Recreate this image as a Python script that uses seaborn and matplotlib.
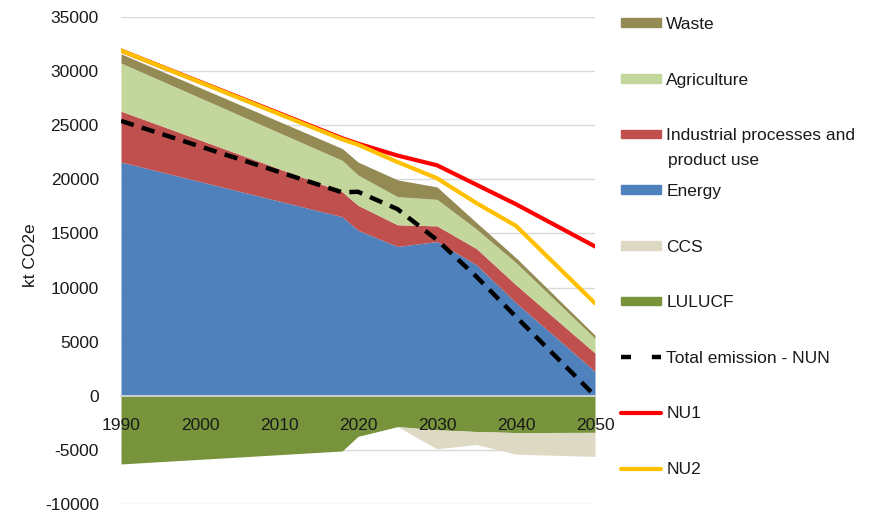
import matplotlib
matplotlib.use("Agg")
import matplotlib.pyplot as plt
from matplotlib.patches import Patch
from matplotlib.lines import Line2D
import seaborn as sns
import pandas as pd

years = [1990, 2018, 2020, 2025, 2030, 2035, 2040, 2050]
energy = [21600, 16550, 15300, 13800, 14250, 12100, 8600, 2250]
ippu = [4700, 2300, 2300, 2000, 1450, 1500, 1650, 1700]
agriculture = [4450, 2900, 2800, 2600, 2450, 1800, 2050, 1350]
waste = [850, 1100, 1200, 1550, 1150, 600, 450, 300]
lulucf = [-6300, -5100, -3750, -2850, -3150, -3300, -3400, -3380]
ccs = [0, 0, 0, 0, -1750, -1200, -2000, -2220]
total_nun = [25400, 18800, 18850, 17250, 14400, 11000, 7300, 0]
nu1 = [31900, 23800, 23300, 22200, 21300, 19500, 17700, 13800]
nu2 = [31900, 23700, 23200, 21600, 20100, 17800, 15700, 8550]

y_ticks = [-10000, -5000, 0, 5000, 10000, 15000, 20000, 25000, 30000, 35000]
x_ticks = [1990, 2000, 2010, 2020, 2030, 2040, 2050]

c_energy = "#4F81BD"
c_ippu = "#C0504D"
c_agri = "#C3D69B"
c_waste = "#948A54"
c_lulucf = "#77933C"
c_ccs = "#DDD9C3"
c_nu1 = "#FF0000"
c_nu2 = "#FFC000"

sns.set_theme(style="white")
plt.rcParams["font.family"] = ["Liberation Sans", "DejaVu Sans"]
plt.rcParams["axes.unicode_minus"] = False
FS = 12.5
TXT = "#1a1a1a"

fig = plt.figure(figsize=(8.76, 5.16), dpi=100)
ax = fig.add_axes([121 / 876, 12 / 516, 474 / 876, 487 / 516])

ax.stackplot(years, energy, ippu, agriculture, waste,
             colors=[c_energy, c_ippu, c_agri, c_waste], linewidth=0)
ax.stackplot(years, lulucf, ccs, colors=[c_lulucf, c_ccs], linewidth=0)

df = pd.DataFrame({"year": years, "total": total_nun, "nu1": nu1, "nu2": nu2})
sns.lineplot(data=df, x="year", y="nu1", ax=ax, color=c_nu1, lw=3.0, zorder=4)
sns.lineplot(data=df, x="year", y="nu2", ax=ax, color=c_nu2, lw=3.0, zorder=5)
sns.lineplot(data=df, x="year", y="total", ax=ax, color="black", lw=3.2,
             linestyle=(0, (3.0, 1.9)), zorder=6)

ax.set_xlim(1990, 2050)
ax.set_ylim(-10000, 35000)
ax.set_yticks(y_ticks)
ax.set_xticks(x_ticks)
ax.yaxis.grid(True, color="#D9D9D9", lw=1.0)
ax.xaxis.grid(False)
ax.set_axisbelow(True)
ax.xaxis.set_zorder(3.5)
for s in ["top", "right", "left"]:
    ax.spines[s].set_visible(False)
ax.spines["bottom"].set_position(("data", 0))
ax.spines["bottom"].set_color("#D9D9D9")
ax.spines["bottom"].set_zorder(3)
ax.tick_params(axis="x", direction="out", length=4, color="#D9D9D9",
               labelsize=FS, pad=12, labelcolor=TXT)
ax.tick_params(axis="y", length=0, labelsize=FS, pad=16, labelcolor=TXT)
ax.set_xlabel("")
ax.set_ylabel("kt CO2e", fontsize=FS, color=TXT)
ax.yaxis.set_label_coords(-0.175, 0.51)

handles = [
    Patch(color=c_waste),
    Patch(color=c_agri),
    Patch(color=c_ippu),
    Patch(color=c_energy),
    Patch(color=c_ccs),
    Patch(color=c_lulucf),
    Line2D([0], [0], color="black", lw=3.2, linestyle=(0, (2.25, 4.7))),
    Line2D([0], [0], color=c_nu1, lw=3.0),
    Line2D([0], [0], color=c_nu2, lw=3.0),
]
labels = ["Waste", "Agriculture", "Industrial processes and", "Energy", "CCS",
          "LULUCF", "Total emission - NUN", "NU1", "NU2"]
leg = fig.legend(handles, labels, loc="upper left",
                 bbox_to_anchor=(621 / 876, 1 - 17 / 516), frameon=False,
                 fontsize=FS, handlelength=2.3, handleheight=0.4,
                 handletextpad=0.3, labelspacing=2.34, borderpad=0,
                 borderaxespad=0)
for t in leg.get_texts():
    t.set_color(TXT)
fig.text(668 / 876, 1 - 161 / 516, "product use", fontsize=FS,
         color=TXT, va="center", ha="left")

fig.savefig("out.png", dpi=100)
